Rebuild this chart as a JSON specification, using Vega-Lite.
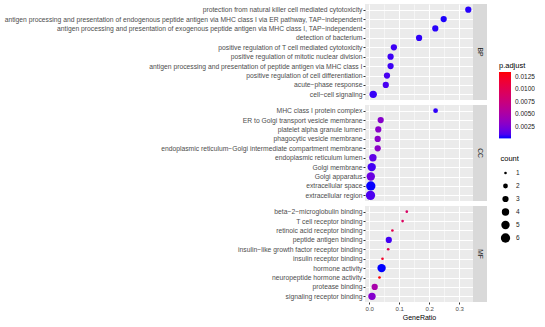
{
  "$schema": "https://vega.github.io/schema/vega-lite/v6.json",
  "padding": {"left": 0, "top": 4, "right": 0, "bottom": 0},
  "background": "white",
  "config": {
    "font": "Liberation Sans",
    "view": {"stroke": null},
    "axis": {"labelFont": "Liberation Sans", "titleFont": "Liberation Sans"},
    "legend": {"labelFont": "Liberation Sans", "titleFont": "Liberation Sans"}
  },
  "datasets": {
    "bp": [
      {"term": "protection from natural killer cell mediated cytotoxicity", "GeneRatio": 0.330, "count": 3, "padj": 0.0004},
      {"term": "antigen processing and presentation of endogenous peptide antigen via MHC class I via ER pathway, TAP−independent", "GeneRatio": 0.248, "count": 3, "padj": 0.0003},
      {"term": "antigen processing and presentation of exogenous peptide antigen via MHC class I, TAP−independent", "GeneRatio": 0.220, "count": 3, "padj": 0.0004},
      {"term": "detection of bacterium", "GeneRatio": 0.166, "count": 3, "padj": 0.0005},
      {"term": "positive regulation of T cell mediated cytotoxicity", "GeneRatio": 0.082, "count": 3, "padj": 0.0007},
      {"term": "positive regulation of mitotic nuclear division", "GeneRatio": 0.071, "count": 3, "padj": 0.0007},
      {"term": "antigen processing and presentation of peptide antigen via MHC class I", "GeneRatio": 0.071, "count": 3, "padj": 0.0007},
      {"term": "positive regulation of cell differentiation", "GeneRatio": 0.059, "count": 3, "padj": 0.0009},
      {"term": "acute−phase response", "GeneRatio": 0.055, "count": 3, "padj": 0.0009},
      {"term": "cell−cell signaling", "GeneRatio": 0.013, "count": 4, "padj": 0.0006}
    ],
    "cc": [
      {"term": "MHC class I protein complex", "GeneRatio": 0.221, "count": 2, "padj": 0.0005},
      {"term": "ER to Golgi transport vesicle membrane", "GeneRatio": 0.038, "count": 3, "padj": 0.0030},
      {"term": "platelet alpha granule lumen", "GeneRatio": 0.030, "count": 3, "padj": 0.0031},
      {"term": "phagocytic vesicle membrane", "GeneRatio": 0.028, "count": 3, "padj": 0.0031},
      {"term": "endoplasmic reticulum−Golgi intermediate compartment membrane", "GeneRatio": 0.028, "count": 3, "padj": 0.0032},
      {"term": "endoplasmic reticulum lumen", "GeneRatio": 0.012, "count": 4, "padj": 0.0015},
      {"term": "Golgi membrane", "GeneRatio": 0.008, "count": 5, "padj": 0.0008},
      {"term": "Golgi apparatus", "GeneRatio": 0.005, "count": 5, "padj": 0.0018},
      {"term": "extracellular space", "GeneRatio": 0.005, "count": 6, "padj": 0.0002},
      {"term": "extracellular region", "GeneRatio": 0.004, "count": 6, "padj": 0.0010}
    ],
    "mf": [
      {"term": "beta−2−microglobulin binding", "GeneRatio": 0.125, "count": 1, "padj": 0.0090},
      {"term": "T cell receptor binding", "GeneRatio": 0.111, "count": 1, "padj": 0.0093},
      {"term": "retinoic acid receptor binding", "GeneRatio": 0.077, "count": 1, "padj": 0.0104},
      {"term": "peptide antigen binding", "GeneRatio": 0.065, "count": 3, "padj": 0.0008},
      {"term": "insulin−like growth factor receptor binding", "GeneRatio": 0.063, "count": 1, "padj": 0.0100},
      {"term": "insulin receptor binding", "GeneRatio": 0.044, "count": 1, "padj": 0.0122},
      {"term": "hormone activity", "GeneRatio": 0.041, "count": 5, "padj": 0.00018},
      {"term": "neuropeptide hormone activity", "GeneRatio": 0.034, "count": 1, "padj": 0.0135},
      {"term": "protease binding", "GeneRatio": 0.018, "count": 3, "padj": 0.0049},
      {"term": "signaling receptor binding", "GeneRatio": 0.009, "count": 4, "padj": 0.0029}
    ]
  },
  "spacing": 5,
  "vconcat": [
    {
      "spacing": 0,
      "hconcat": [
        {
          "width": 108, "height": 96,
          "data": {"name": "bp"},
          "view": {"fill": "#EBEBEB", "stroke": null},
          "mark": {"type": "circle", "opacity": 1},
          "encoding": {
            "x": {"field": "GeneRatio", "type": "quantitative",
              "scale": {"domain": [-0.0143, 0.3457], "nice": false, "zero": false},
              "axis": {"values": [0, 0.05, 0.1, 0.15, 0.2, 0.25, 0.3], "labels": false, "ticks": false, "domain": false, "title": null, "grid": true, "gridColor": "white",
                "gridWidth": {"condition": {"test": "round(datum.value*100) % 10 === 0", "value": 1}, "value": 0.5}}},
            "y": {"field": "term", "type": "nominal", "sort": null,
              "scale": {"type": "point", "padding": 0.6},
              "axis": {"title": null, "domain": false, "grid": true, "gridColor": "white", "gridWidth": 1, "labelFontSize": 6.75, "labelColor": "#4D4D4D", "tickSize": 2, "tickColor": "#333333", "labelPadding": 1, "labelLimit": 1000, "minExtent": 365, "maxExtent": 365}},
            "color": {"field": "padj", "type": "quantitative", "title": "p.adjust",
              "scale": {"domain": [0.00018, 0.0135], "range": ["#0000FF", "#FF0000"], "interpolate": "lab"},
              "legend": {"orient": "none", "legendX": 134, "legendY": 58, "direction": "vertical", "gradientLength": 66.4, "gradientThickness": 12, "values": [0.0025, 0.005, 0.0075, 0.01, 0.0125], "format": ".4f", "labelFontSize": 6.5, "labelColor": "#1A1A1A", "labelOffset": 4, "titleFontSize": 7.5, "titleFontWeight": "normal", "titleColor": "black", "titlePadding": 2.5, "gradientStrokeWidth": 0, "padding": 0}},
            "size": {"field": "count", "type": "quantitative", "title": "count",
              "scale": {"domain": [1, 6], "range": [7, 87], "zero": false},
              "legend": {"orient": "none", "legendX": 135.5, "legendY": 151, "values": [1, 2, 3, 4, 5, 6], "symbolFillColor": "black", "symbolStrokeWidth": 0, "symbolOpacity": 1, "clipHeight": 11, "labelFontSize": 6.5, "labelColor": "#1A1A1A", "labelOffset": 5.5, "titleFontSize": 7.5, "titleFontWeight": "normal", "titleColor": "black", "titlePadding": 5, "rowPadding": 2, "padding": 0}}
          }
        },
        {
          "width": 14, "height": 96,
          "data": {"values": [{"ont": "BP"}]},
          "view": {"fill": "#D9D9D9", "stroke": null},
          "mark": {"type": "text", "angle": 90, "fontSize": 6.75, "color": "#1A1A1A", "align": "center", "baseline": "middle"},
          "encoding": {"text": {"field": "ont", "type": "nominal"}}
        }
      ]
    },
    {
      "spacing": 0,
      "hconcat": [
        {
          "width": 108, "height": 96,
          "data": {"name": "cc"},
          "view": {"fill": "#EBEBEB", "stroke": null},
          "mark": {"type": "circle", "opacity": 1},
          "encoding": {
            "x": {"field": "GeneRatio", "type": "quantitative",
              "scale": {"domain": [-0.0143, 0.3457], "nice": false, "zero": false},
              "axis": {"values": [0, 0.05, 0.1, 0.15, 0.2, 0.25, 0.3], "labels": false, "ticks": false, "domain": false, "title": null, "grid": true, "gridColor": "white",
                "gridWidth": {"condition": {"test": "round(datum.value*100) % 10 === 0", "value": 1}, "value": 0.5}}},
            "y": {"field": "term", "type": "nominal", "sort": null,
              "scale": {"type": "point", "padding": 0.6},
              "axis": {"title": null, "domain": false, "grid": true, "gridColor": "white", "gridWidth": 1, "labelFontSize": 6.75, "labelColor": "#4D4D4D", "tickSize": 2, "tickColor": "#333333", "labelPadding": 1, "labelLimit": 1000, "minExtent": 365, "maxExtent": 365}},
            "color": {"field": "padj", "type": "quantitative", "title": "p.adjust",
              "scale": {"domain": [0.00018, 0.0135], "range": ["#0000FF", "#FF0000"], "interpolate": "lab"}},
            "size": {"field": "count", "type": "quantitative", "title": "count",
              "scale": {"domain": [1, 6], "range": [7, 87], "zero": false}}
          }
        },
        {
          "width": 14, "height": 96,
          "data": {"values": [{"ont": "CC"}]},
          "view": {"fill": "#D9D9D9", "stroke": null},
          "mark": {"type": "text", "angle": 90, "fontSize": 6.75, "color": "#1A1A1A", "align": "center", "baseline": "middle"},
          "encoding": {"text": {"field": "ont", "type": "nominal"}}
        }
      ]
    },
    {
      "spacing": 0,
      "hconcat": [
        {
          "width": 108, "height": 96,
          "data": {"name": "mf"},
          "view": {"fill": "#EBEBEB", "stroke": null},
          "mark": {"type": "circle", "opacity": 1},
          "encoding": {
            "x": {"field": "GeneRatio", "type": "quantitative",
              "scale": {"domain": [-0.0143, 0.3457], "nice": false, "zero": false},
              "axis": {"values": [0, 0.05, 0.1, 0.15, 0.2, 0.25, 0.3], "domain": false, "title": "GeneRatio", "grid": true, "gridColor": "white",
                "gridWidth": {"condition": {"test": "round(datum.value*100) % 10 === 0", "value": 1}, "value": 0.5},
                "tickOpacity": {"condition": {"test": "round(datum.value*100) % 10 === 0", "value": 1}, "value": 0},
                "labelExpr": "round(datum.value*100) % 10 === 0 ? format(datum.value, '.1f') : ''",
                "tickSize": 2, "tickColor": "#333333", "labelFontSize": 6, "labelColor": "#4D4D4D", "labelPadding": 1, "titleFontSize": 7, "titleFontWeight": "normal", "titleColor": "black", "titlePadding": 2.5}},
            "y": {"field": "term", "type": "nominal", "sort": null,
              "scale": {"type": "point", "padding": 0.6},
              "axis": {"title": null, "domain": false, "grid": true, "gridColor": "white", "gridWidth": 1, "labelFontSize": 6.75, "labelColor": "#4D4D4D", "tickSize": 2, "tickColor": "#333333", "labelPadding": 1, "labelLimit": 1000, "minExtent": 365, "maxExtent": 365}},
            "color": {"field": "padj", "type": "quantitative", "title": "p.adjust",
              "scale": {"domain": [0.00018, 0.0135], "range": ["#0000FF", "#FF0000"], "interpolate": "lab"}},
            "size": {"field": "count", "type": "quantitative", "title": "count",
              "scale": {"domain": [1, 6], "range": [7, 87], "zero": false}}
          }
        },
        {
          "width": 14, "height": 96,
          "data": {"values": [{"ont": "MF"}]},
          "view": {"fill": "#D9D9D9", "stroke": null},
          "mark": {"type": "text", "angle": 90, "fontSize": 6.75, "color": "#1A1A1A", "align": "center", "baseline": "middle"},
          "encoding": {"text": {"field": "ont", "type": "nominal"}}
        }
      ]
    }
  ]
}
